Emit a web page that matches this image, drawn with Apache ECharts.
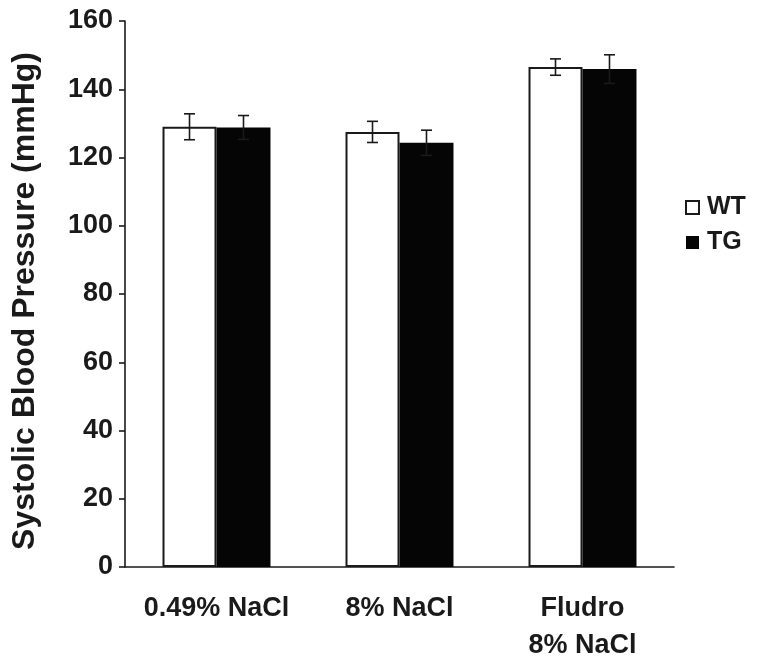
<!DOCTYPE html>
<html>
<head>
<meta charset="utf-8">
<script src="https://cdn.jsdelivr.net/npm/echarts@6/dist/echarts.min.js"></script>
<style>
  html, body { margin: 0; padding: 0; background: #fff; }
  #chart { width: 762px; height: 664px; }
</style>
</head>
<body>
<div id="chart"></div>
<script>
const categories = ['0.49% NaCl', '8% NaCl', 'Fludro\n8% NaCl']
const wtValues = [129, 127.5, 146.5]
const wtErrors = [3.8, 3.1, 2.4]
const tgValues = [128.8, 124.3, 145.9]
const tgErrors = [3.5, 3.7, 4.2]

const ink = '#1a1a1a'
const font = 'Liberation Sans, Arial, sans-serif'
const barPct = 0.295

const errorSeries = (values, errors, side) => ({
  type: 'custom',
  z: 5,
  silent: true,
  data: values.map((v, i) => [i, v, errors[i]]),
  renderItem: (params, api) => {
    const idx = api.value(0)
    const band = api.size([1, 0])[0]
    const dx = side * band * barPct / 2
    const hi = api.coord([idx, api.value(1) + api.value(2)])
    const lo = api.coord([idx, api.value(1) - api.value(2)])
    const x = hi[0] + dx
    const cap = 5.5
    const style = { stroke: ink, lineWidth: 1.6 }
    return {
      type: 'group',
      children: [
        { type: 'line', shape: { x1: x, y1: hi[1], x2: x, y2: lo[1] }, style },
        { type: 'line', shape: { x1: x - cap, y1: hi[1], x2: x + cap, y2: hi[1] }, style },
        { type: 'line', shape: { x1: x - cap, y1: lo[1], x2: x + cap, y2: lo[1] }, style }
      ]
    }
  }
})

const chart = echarts.init(document.getElementById('chart'), null, { renderer: 'canvas' })
chart.setOption({
  backgroundColor: '#fff',
  animation: false,
  textStyle: { fontFamily: font },
  grid: { left: 125, right: 88, top: 21, bottom: 96 },
  legend: {
    orient: 'vertical',
    left: 680,
    top: 190,
    itemWidth: 13,
    itemHeight: 13,
    itemGap: 10,
    icon: 'rect',
    data: ['WT', 'TG'],
    textStyle: { color: ink, fontSize: 25, fontWeight: 'bold', fontFamily: font, padding: [0, 0, 0, 3] }
  },
  xAxis: {
    type: 'category',
    data: categories,
    axisLine: { lineStyle: { color: ink, width: 1.6 } },
    axisTick: { length: 6, lineStyle: { color: ink, width: 1.6 } },
    axisLabel: {
      interval: 0,
      color: ink, fontSize: 27, fontWeight: 'bold', fontFamily: font,
      margin: 23, lineHeight: 37
    }
  },
  yAxis: {
    type: 'value',
    min: 0,
    max: 160,
    interval: 20,
    name: 'Systolic Blood Pressure (mmHg)',
    nameLocation: 'middle',
    nameGap: 84,
    nameTextStyle: { color: ink, fontSize: 32, fontWeight: 'bold', fontFamily: font, padding: [0, 14, 0, 0] },
    axisLine: { show: true, lineStyle: { color: ink, width: 1.6 } },
    axisTick: { show: true, length: 6, lineStyle: { color: ink, width: 1.6 } },
    axisLabel: { color: ink, fontSize: 27, fontWeight: 'bold', fontFamily: font, margin: 12 },
    splitLine: { show: false }
  },
  series: [
    {
      name: 'WT',
      type: 'bar',
      data: wtValues,
      barWidth: (barPct * 100) + '%',
      barGap: '0%',
      itemStyle: { color: '#fff', borderColor: ink, borderWidth: 2 }
    },
    {
      name: 'TG',
      type: 'bar',
      data: tgValues,
      barWidth: (barPct * 100) + '%',
      barGap: '0%',
      itemStyle: { color: '#050505', borderColor: '#050505', borderWidth: 0 }
    },
    errorSeries(wtValues, wtErrors, -1),
    errorSeries(tgValues, tgErrors, 1)
  ]
})
</script>
</body>
</html>
